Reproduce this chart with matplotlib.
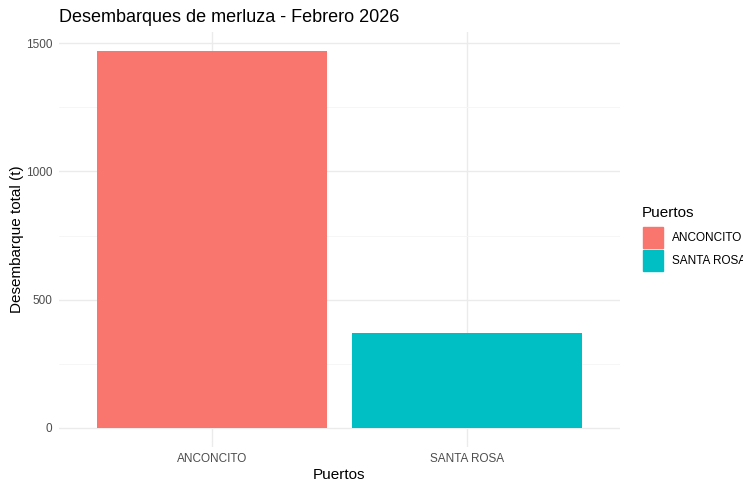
import matplotlib.pyplot as plt
from matplotlib.patches import Rectangle

plt.rcParams['font.family'] = ['Liberation Sans', 'DejaVu Sans']

puertos = ["ANCONCITO", "SANTA ROSA"]
desembarque = [1471, 368]
colores = ["#F8766D", "#00BFC4"]

W, H = 743, 484
fig = plt.figure(figsize=(W / 100, H / 100), dpi=100)
ax = fig.add_axes([59 / W, 1 - 446.5 / H, (620 - 59) / W, (446.5 - 32) / H])

x = list(range(1, len(puertos) + 1))
ax.bar(x, desembarque, width=0.9, color=colores, zorder=3)

ymax = max(desembarque)
ax.set_xlim(0.4, len(puertos) + 0.6)
ax.set_ylim(-0.05 * ymax, ymax * 1.05)

ax.set_xticks(x)
ax.set_xticklabels(puertos)
ax.set_yticks([0, 500, 1000, 1500])
ax.set_yticks([250, 750, 1250], minor=True)
ax.grid(True, which='major', color='#EBEBEB', linewidth=1.0, zorder=0)
ax.grid(True, which='minor', axis='y', color='#F5F5F5', linewidth=0.6, zorder=0)
for s in ax.spines.values():
    s.set_visible(False)
ax.tick_params(which='both', length=0, labelsize=8.5, labelcolor='#4D4D4D', pad=5)

ax.set_xlabel("Puertos", fontsize=11, color='black', labelpad=2)
ax.set_ylabel("Desembarque total (t)", fontsize=11, color='black', labelpad=1)

fig.text(59 / W, 1 - 22 / H, "Desembarques de merluza - Febrero 2026",
         fontsize=13, color='black', ha='left', va='baseline')

# leyenda manual (el texto queda cortado en el borde, igual que el original)
fig.text(642 / W, 1 - 217 / H, "Puertos", fontsize=11, ha='left', va='baseline')
for i, (p, c) in enumerate(zip(puertos, colores)):
    y0 = 227 + i * 23
    fig.patches.append(Rectangle((643 / W, 1 - (y0 + 21) / H), 20 / W, 21 / H,
                                 transform=fig.transFigure, color=c))
    fig.text(672 / W, 1 - (y0 + 10.5) / H, p, fontsize=8.5, color='black',
             ha='left', va='center')

plt.savefig("out.png", dpi=100)
